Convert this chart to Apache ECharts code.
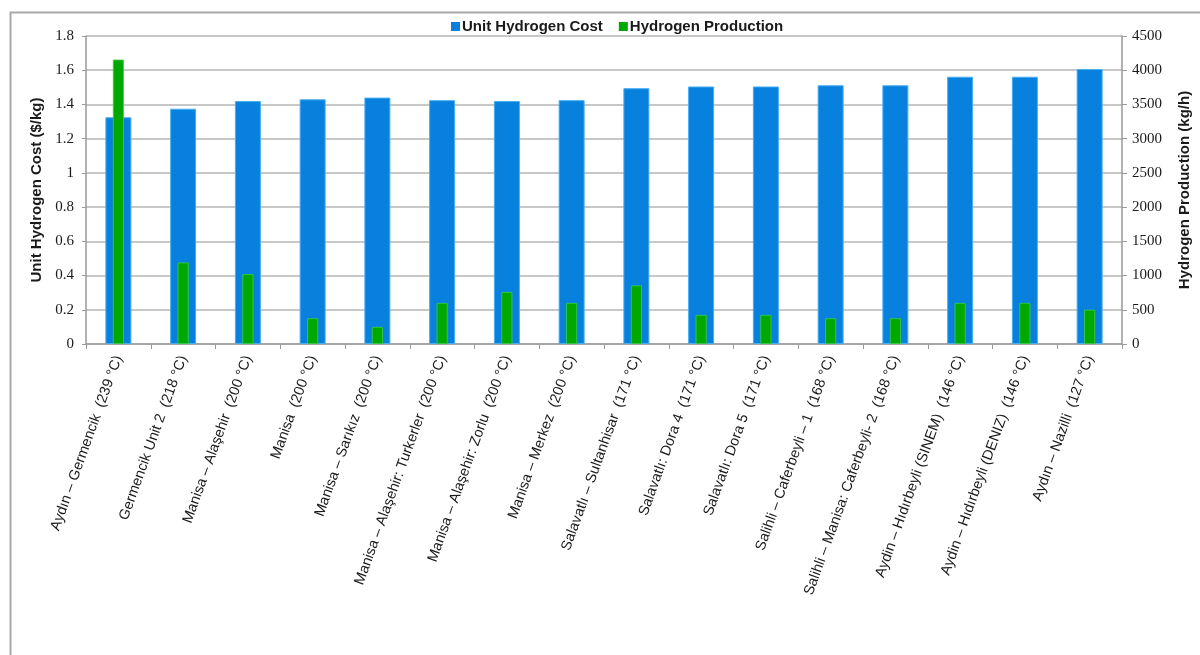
<!DOCTYPE html>
<html>
<head>
<meta charset="utf-8">
<title>Unit Hydrogen Cost and Hydrogen Production</title>
<script src="https://cdn.jsdelivr.net/npm/echarts@6/dist/echarts.min.js"></script>
<style>
  html, body { margin: 0; padding: 0; background: #ffffff; }
  #chart { width: 1200px; height: 655px; }
</style>
</head>
<body>
<div id="chart"></div>
<script>
// Geothermal sites with their resource temperature
const sites = [
  'Aydın – Germencik  (239 °C)',
  'Germencik Unit 2  (218 °C)',
  'Manisa – Alaşehir  (200 °C)',
  'Manisa  (200 °C)',
  'Manisa – Sarıkız  (200 °C)',
  'Manisa – Alaşehir: Turkerler  (200 °C)',
  'Manisa – Alaşehir: Zorlu  (200 °C)',
  'Manisa – Merkez  (200 °C)',
  'Salavatlı – Sultanhisar  (171 °C)',
  'Salavatlı: Dora 4  (171 °C)',
  'Salavatlı: Dora 5  (171 °C)',
  'Salihli – Caferbeyli – 1  (168 °C)',
  'Salihli – Manisa: Caferbeyli- 2  (168 °C)',
  'Aydin – Hıdırbeyli (SINEM)  (146 °C)',
  'Aydin – Hıdırbeyli (DENIZ)  (146 °C)',
  'Aydın – Nazilli  (127 °C)'
];

// Unit hydrogen cost, $/kg (left axis)
const unitCost = [1.325, 1.375, 1.42, 1.43, 1.44, 1.425, 1.42, 1.425,
                  1.495, 1.505, 1.505, 1.512, 1.512, 1.562, 1.562, 1.607];

// Hydrogen production, kg/h (right axis)
const production = [4155, 1190, 1020, 375, 250, 600, 760, 600,
                    855, 425, 425, 375, 375, 600, 600, 500];

const seriesNames = ['Unit Hydrogen Cost', 'Hydrogen Production'];

const axisGrey = '#9a9a9a';
const gridGrey = '#b6b6b6';
const textDark = '#1a1a1a';

const chart = echarts.init(document.getElementById('chart'));

chart.setOption({
  animation: false,
  backgroundColor: '#ffffff',
  graphic: [{
    type: 'rect',
    left: 8,
    top: 10,
    shape: { x: 0, y: 0, width: 1300, height: 700 },
    style: { fill: 'none', stroke: '#a8a8a8', lineWidth: 2 },
    silent: true,
    z: -10
  }],
  legend: {
    data: seriesNames,
    left: 446,
    top: 14,
    icon: 'rect',
    itemWidth: 9,
    itemHeight: 9,
    itemGap: 16,
    itemStyle: { borderWidth: 0 },
    textStyle: {
      fontFamily: 'Liberation Sans, Arial, sans-serif',
      fontWeight: 'bold',
      fontSize: 15,
      color: textDark,
      padding: [0, 0, 0, -3]
    }
  },
  grid: { left: 86, right: 78, top: 36, bottom: 311 },
  xAxis: [{
    type: 'category',
    data: sites,
    axisLine: { lineStyle: { color: axisGrey, width: 1.5 } },
    axisTick: { show: true, length: 5, lineStyle: { color: axisGrey } },
    axisLabel: {
      rotate: 70,
      margin: 12,
      fontFamily: 'Liberation Sans, Arial, sans-serif',
      fontSize: 14.5,
      color: textDark,
      interval: 0
    }
  }, {
    type: 'category',
    data: sites,
    show: false
  }],
  yAxis: [{
    type: 'value',
    min: 0,
    max: 1.8,
    interval: 0.2,
    name: 'Unit Hydrogen Cost ($/kg)',
    nameLocation: 'middle',
    nameGap: 40,
    nameTextStyle: {
      fontFamily: 'Liberation Sans, Arial, sans-serif',
      fontWeight: 'bold',
      fontSize: 15,
      color: textDark
    },
    axisLine: { show: true, lineStyle: { color: axisGrey, width: 1.5 } },
    axisTick: { show: true, length: 4, lineStyle: { color: axisGrey } },
    splitLine: { show: true, lineStyle: { color: gridGrey, width: 1.5 } },
    axisLabel: {
      margin: 12,
      fontFamily: 'Liberation Serif, Times New Roman, serif',
      fontSize: 15,
      color: textDark
    }
  }, {
    type: 'value',
    min: 0,
    max: 4500,
    interval: 500,
    position: 'right',
    name: 'Hydrogen Production (kg/h)',
    nameLocation: 'middle',
    nameGap: 55,
    nameRotate: 90,
    nameTextStyle: {
      fontFamily: 'Liberation Sans, Arial, sans-serif',
      fontWeight: 'bold',
      fontSize: 15,
      color: textDark
    },
    axisLine: { show: true, lineStyle: { color: axisGrey, width: 1.5 } },
    axisTick: { show: true, length: 5, lineStyle: { color: axisGrey } },
    splitLine: { show: false },
    axisLabel: {
      margin: 10,
      fontFamily: 'Liberation Serif, Times New Roman, serif',
      fontSize: 15,
      color: textDark,
      formatter: v => String(v)
    }
  }],
  series: [{
    name: seriesNames[0],
    type: 'bar',
    xAxisIndex: 0,
    yAxisIndex: 0,
    data: unitCost,
    barWidth: 26,
    itemStyle: { color: '#0780de', borderColor: '#48aef2', borderWidth: 1 }
  }, {
    name: seriesNames[1],
    type: 'bar',
    xAxisIndex: 1,
    yAxisIndex: 1,
    data: production,
    barWidth: 11,
    itemStyle: { color: '#02a802', borderColor: '#3fcf3f', borderWidth: 0.8 }
  }]
});
</script>
</body>
</html>
